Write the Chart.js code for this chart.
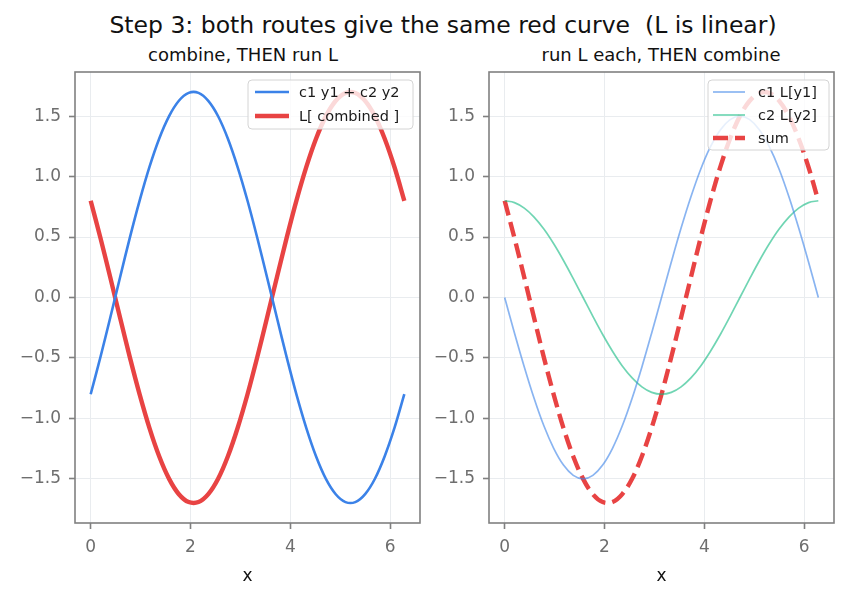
<!DOCTYPE html>
<html><head><meta charset="utf-8">
<script src="https://cdn.jsdelivr.net/npm/chart.js@4.4.1/dist/chart.umd.min.js"></script>
<style>
html,body{margin:0;padding:0;background:#fff;}
#wrap{position:relative;width:848px;height:598px;overflow:hidden;font-family:"DejaVu Sans",sans-serif;}
.t{position:absolute;white-space:nowrap;color:#111;line-height:1;transform:translateX(-50%);}
canvas{position:absolute;top:0;}
</style></head>
<body><div id="wrap">
<div class="t" id="sup" style="left:443px;top:14px;font-size:23.5px;">Step 3: both routes give the same red curve&nbsp; (L is linear)</div>
<div class="t" id="st1" style="left:243px;top:46px;font-size:18px;">combine, THEN run L</div>
<div class="t" id="st2" style="left:661px;top:46px;font-size:18px;">run L each, THEN combine</div>
<canvas id="c1" width="430" height="598" style="left:0px;width:430px;height:598px"></canvas>
<canvas id="c2" width="418" height="598" style="left:430px;width:418px;height:598px"></canvas>
</div>
<script>
// ---- data ----
const xs = [0,0.196,0.393,0.589,0.785,0.982,1.178,1.374,1.571,1.767,1.963,2.160,2.356,2.553,2.749,2.945,3.142,3.338,3.534,3.731,3.927,4.123,4.320,4.516,4.712,4.909,5.105,5.301,5.498,5.694,5.890,6.087,6.283];
const combined = [-0.8,-0.492,-0.165,0.168,0.495,0.803,1.080,1.315,1.5,1.627,1.692,1.692,1.626,1.499,1.313,1.077,0.8,0.492,0.165,-0.168,-0.495,-0.803,-1.080,-1.315,-1.5,-1.627,-1.692,-1.692,-1.626,-1.499,-1.313,-1.077,-0.8];
const lCombined = [0.8,0.492,0.165,-0.168,-0.495,-0.803,-1.080,-1.315,-1.5,-1.627,-1.692,-1.692,-1.626,-1.499,-1.313,-1.077,-0.8,-0.492,-0.165,0.168,0.495,0.803,1.080,1.315,1.5,1.627,1.692,1.692,1.626,1.499,1.313,1.077,0.8];
const c1Ly1 = [0,-0.293,-0.574,-0.833,-1.061,-1.247,-1.386,-1.471,-1.5,-1.471,-1.386,-1.247,-1.061,-0.833,-0.574,-0.293,0,0.293,0.574,0.833,1.061,1.247,1.386,1.471,1.5,1.471,1.386,1.247,1.061,0.833,0.574,0.293,0];
const c2Ly2 = [0.8,0.785,0.739,0.665,0.566,0.444,0.306,0.156,0,-0.156,-0.306,-0.444,-0.566,-0.665,-0.739,-0.785,-0.8,-0.785,-0.739,-0.665,-0.566,-0.444,-0.306,-0.156,0,0.156,0.306,0.444,0.566,0.665,0.739,0.785,0.8];
const sumL = [0.8,0.492,0.165,-0.168,-0.495,-0.803,-1.080,-1.315,-1.5,-1.627,-1.692,-1.692,-1.626,-1.499,-1.313,-1.077,-0.8,-0.492,-0.165,0.168,0.495,0.803,1.080,1.315,1.5,1.627,1.692,1.692,1.626,1.499,1.313,1.077,0.8];
const xTicks = [0,2,4,6];
const yTicks = [-1.5,-1.0,-0.5,0,0.5,1.0,1.5];
const xLabel = 'x';

const FONT = '"DejaVu Sans", sans-serif';
const SPINE = '#808080';
const TICKC = '#6e6e6e';
const GRID = '#e9ecef';

function pts(ys){ return xs.map((x,i)=>({x:x,y:ys[i]})); }
function fmt(v){ const s = Math.abs(v).toFixed(1); return v < 0 ? '\u2212'+s : s; }

const framePlugin = {
  id:'frame',
  afterDraw(chart){
    const a = chart.chartArea, ctx = chart.ctx;
    ctx.save();
    ctx.strokeStyle = SPINE; ctx.lineWidth = 1.6;
    ctx.strokeRect(a.left, a.top, a.right-a.left, a.bottom-a.top);
    // legend
    const L = chart.options.plugins.boxLegend;
    const x0 = L.box[0], y0 = L.box[1], x1 = L.box[2], y1 = L.box[3];
    ctx.beginPath();
    const r = 4;
    ctx.moveTo(x0+r,y0); ctx.lineTo(x1-r,y0); ctx.quadraticCurveTo(x1,y0,x1,y0+r);
    ctx.lineTo(x1,y1-r); ctx.quadraticCurveTo(x1,y1,x1-r,y1); ctx.lineTo(x0+r,y1);
    ctx.quadraticCurveTo(x0,y1,x0,y1-r); ctx.lineTo(x0,y0+r); ctx.quadraticCurveTo(x0,y0,x0+r,y0);
    ctx.closePath();
    ctx.fillStyle = 'rgba(255,255,255,0.8)'; ctx.fill();
    ctx.strokeStyle = '#d4d4d4'; ctx.lineWidth = 1; ctx.stroke();
    chart.data.datasets.forEach((ds,i)=>{
      const y = L.rows[i];
      ctx.beginPath();
      ctx.strokeStyle = ds.borderColor; ctx.lineWidth = ds.borderWidth;
      ctx.setLineDash(ds.borderDash || []);
      ctx.moveTo(L.lineX[0], y); ctx.lineTo(L.lineX[1], y); ctx.stroke();
      ctx.setLineDash([]);
      ctx.fillStyle = '#1a1a1a'; ctx.font = L.font + 'px ' + FONT;
      ctx.textBaseline = 'middle'; ctx.textAlign = 'left';
      ctx.fillText(ds.label, L.textX, y+1);
    });
    ctx.restore();
  }
};

function makeChart(id, datasets, yWidth, padRight, legend){
  return new Chart(document.getElementById(id), {
    type:'line',
    data:{ datasets: datasets },
    options:{
      responsive:false, animation:false,
      layout:{ padding:{ top:72, right:padRight, left:0, bottom:0 } },
      elements:{ point:{ radius:0 }, line:{ tension:0.35 } },
      plugins:{ legend:{ display:false }, tooltip:{ enabled:false }, boxLegend: legend },
      scales:{
        x:{
          type:'linear', min:-0.314, max:6.597,
          afterFit(s){ s.height = 75; },
          afterBuildTicks(s){ s.ticks = xTicks.map(v=>({value:v})); },
          grid:{ color:GRID, lineWidth:1, tickLength:6, tickColor:SPINE, tickWidth:1.6, drawTicks:true },
          border:{ display:false },
          ticks:{ color:TICKC, font:{ family:FONT, size:17 }, padding:8, maxRotation:0, autoSkip:false,
                  callback:(v)=>String(v) },
          title:{ display:true, text:xLabel, color:'#111', font:{ family:FONT, size:17 }, padding:{ top:0, bottom:11 } }
        },
        y:{
          type:'linear', min:-1.865, max:1.865,
          afterFit(s){ s.width = yWidth; },
          afterBuildTicks(s){ s.ticks = yTicks.map(v=>({value:v})); },
          grid:{ color:GRID, lineWidth:1, tickLength:6, tickColor:SPINE, tickWidth:1.6, drawTicks:true },
          border:{ display:false },
          ticks:{ color:TICKC, font:{ family:FONT, size:17 }, padding:8, autoSkip:false, callback:(v)=>fmt(v) }
        }
      }
    },
    plugins:[framePlugin]
  });
}

makeChart('c1', [
  { label:'c1 y1 + c2 y2', data:pts(combined), borderColor:'#3b82e8', borderWidth:2.6, fill:false },
  { label:'L[ combined ]', data:pts(lCombined), borderColor:'#e84343', borderWidth:4.4, fill:false }
], 75, 10, { box:[248,80,413,129], rows:[92,116], lineX:[255,289], textX:299, font:14.5 });

makeChart('c2', [
  { label:'c1 L[y1]', data:pts(c1Ly1), borderColor:'rgba(59,130,232,0.6)', borderWidth:1.7, fill:false },
  { label:'c2 L[y2]', data:pts(c2Ly2), borderColor:'rgba(16,185,129,0.6)', borderWidth:1.7, fill:false },
  { label:'sum', data:pts(sumL), borderColor:'#e84343', borderWidth:4.4, borderDash:[15,7], fill:false }
], 59, 14, { box:[278,80,399,150], rows:[92,115,138], lineX:[283,315], textX:328, font:14.5 });
</script>
</body></html>
